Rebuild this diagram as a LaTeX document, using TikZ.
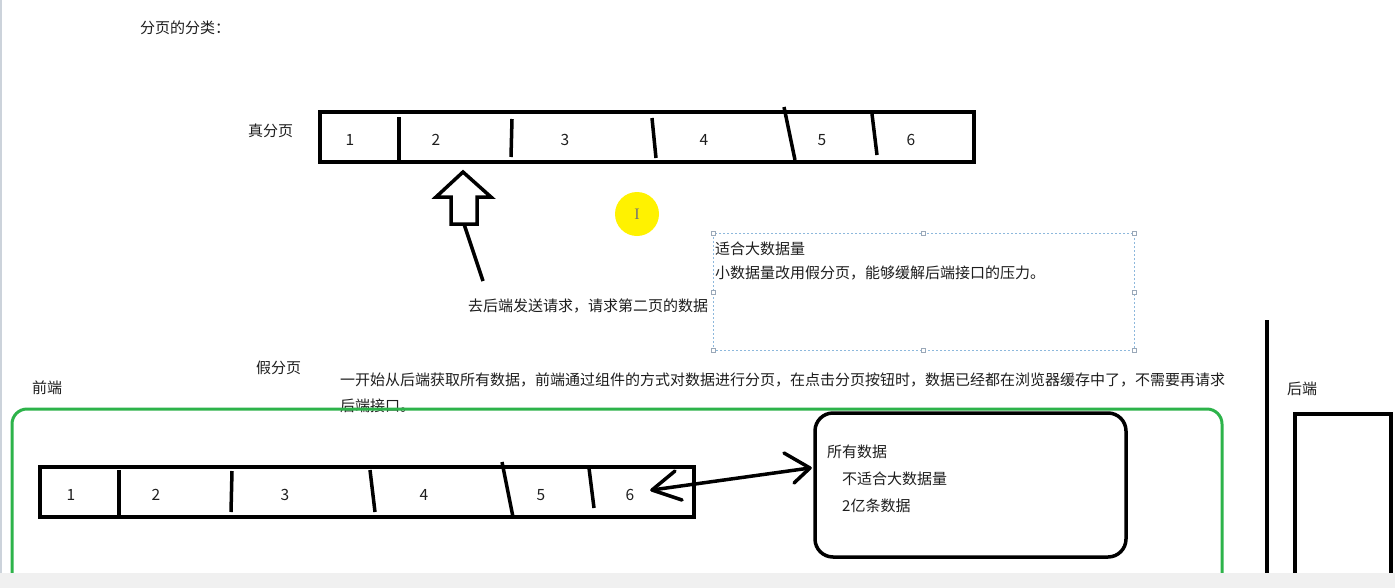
\documentclass[tikz,border=0pt]{standalone}
\usepackage{fontspec}
\setmainfont{Noto Sans CJK SC}
\definecolor{txtgray}{HTML}{1E1E1E}
\definecolor{boxgreen}{HTML}{2DB34A}
\definecolor{selblue}{HTML}{8DB8DC}
\definecolor{handlegray}{HTML}{9AA8B8}
\definecolor{bargray}{HTML}{F0F0F0}
\definecolor{cursoryellow}{HTML}{FFF200}
\tikzset{
  lbl/.style={anchor=west, inner sep=0pt, font=\fontsize{15}{18}\selectfont, text=txtgray},
  num/.style={inner sep=0pt, anchor=base, font=\fontsize{15.5}{17}\selectfont, text=txtgray},
  pagebar/.style={draw=black, line width=3.5pt, minimum width=654pt, minimum height=50pt, inner sep=0pt},
  heavy/.style={draw=black, line width=3.5pt},
  handle/.style={draw=handlegray, fill=white, line width=0.6pt, minimum size=4pt, inner sep=0pt},
}
\begin{document}
\begin{tikzpicture}[x=1pt, y=-1pt]
\useasboundingbox (0,0) rectangle (1395,587);
\fill[white] (0,0) rectangle (1395,587);
\draw[color=handlegray!50, line width=2pt] (1,0) -- (1,573);

% title
\node[lbl] (title) at (140,28) {分页的分类：};

% ---------- true paging ----------
\node[lbl] (truelbl) at (248,131) {真分页};
\node[pagebar] (topbar) at (647,137) {};
\draw[heavy] (399,117) -- (399,160);
\draw[heavy] (512,119) -- (511,157);
\draw[heavy] (652,118) -- (656,158);
\draw[heavy] (784,107) -- (795,160);
\draw[heavy] (872,114) -- (877,155);
\node[num] (t1) at (350,145) {1};
\node[num] (t2) at (436,145) {2};
\node[num] (t3) at (565,145) {3};
\node[num] (t4) at (704,145) {4};
\node[num] (t5) at (822,145) {5};
\node[num] (t6) at (911,145) {6};

% hollow arrow
\coordinate (arrtip) at (463,172);
\coordinate (arrbase) at (464,224);
\coordinate (linebot) at (483,281);
\draw[black, line width=3.5pt, line join=miter]
  (arrtip) -- (436,197) -- (451,197) -- (451,224) -- (477,224) -- (477,197) -- (491,197) -- cycle;
\draw[heavy] (arrbase) -- (linebot);
\node[lbl] (reqtxt) at (468,306) {去后端发送请求，请求第二页的数据};

% cursor highlight
\fill[cursoryellow] (637,214) circle (22pt);
\node[inner sep=0pt, font=\fontsize{16}{16}\selectfont\fontspec{Liberation Serif}, text=black!55] (cursor) at (637,214) {I};

% selection box
\draw[selblue, line width=0.9pt, dash pattern=on 2pt off 2pt] (713,233) rectangle (1134,350);
\foreach \p in {(713,233),(923,233),(1134,233),(713,292),(1134,292),(713,350),(923,350),(1134,350)}
  \node[handle] at \p {};
\node[lbl] (big) at (715,249) {适合大数据量};
\node[lbl] (small) at (715,273) {小数据量改用假分页，能够缓解后端接口的压力。};

% ---------- fake paging ----------
\node[lbl] (fakelbl) at (256,368) {假分页};
\node[lbl] (front) at (32,388) {前端};
\node[lbl] (desc1) at (340,380) {一开始从后端获取所有数据，前端通过组件的方式对数据进行分页，在点击分页按钮时，数据已经都在浏览器缓存中了，不需要再请求};
\node[lbl] (desc2) at (340,406) {后端接口。};

% green frontend frame
\draw[boxgreen, line width=3pt, rounded corners=15pt] (12,574) -- (12,409) -- (1222,409) -- (1222,574);

\node[pagebar] (botbar) at (367,492) {};
\draw[heavy] (119,470) -- (119,515);
\draw[heavy] (232,471) -- (231,512);
\draw[heavy] (370,470) -- (375,512);
\draw[heavy] (502,462) -- (513,517);
\draw[heavy] (589,468) -- (594,508);
\node[num] (b1) at (71,500) {1};
\node[num] (b2) at (156,500) {2};
\node[num] (b3) at (285,500) {3};
\node[num] (b4) at (424,500) {4};
\node[num] (b5) at (541,500) {5};
\node[num] (b6) at (630,500) {6};

% all data box
\node[draw=black, line width=3.5pt, rounded corners=18pt, minimum width=311pt, minimum height=144pt, inner sep=0pt] (alldata) at (970.5,485) {};
\node[lbl] (all) at (827,452) {所有数据};
\node[lbl] (notfit) at (842,479) {不适合大数据量};
\node[lbl] (yi) at (842,506) {2亿条数据};

% double arrow
\coordinate (ltip) at (652,490);
\coordinate (rtip) at (810,468);
\draw[heavy, line cap=round, line join=round] (ltip) -- (rtip);
\draw[heavy, line cap=round, line join=round] (675,471) -- (ltip) -- (682,500);
\draw[heavy, line cap=round, line join=round] (784,453) -- (rtip) -- (794,483);

% backend side
\draw[heavy] (1267,320) -- (1267,574);
\node[lbl] (back) at (1287,389) {后端};
\draw[heavy] (1295,574) -- (1295,414) -- (1391,414) -- (1391,574);

% bottom bar
\fill[bargray] (0,573) rectangle (1395,588);
\end{tikzpicture}
\end{document}
